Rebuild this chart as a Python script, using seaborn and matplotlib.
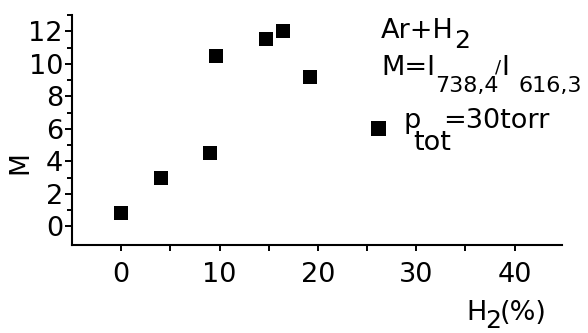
import matplotlib
matplotlib.use("Agg")
import matplotlib.pyplot as plt
from matplotlib.lines import Line2D
from matplotlib.ticker import FixedLocator, NullFormatter
import seaborn as sns
import pandas as pd

# ---- data ----
h2_percent = [0.0, 4.0, 9.0, 9.6, 14.7, 16.5, 19.2]
m_ratio = [0.8, 3.0, 4.5, 10.45, 11.5, 12.0, 9.2]

x_major = [0, 10, 20, 30, 40]
x_minor = [5, 15, 25, 35]
y_major = [0, 2, 4, 6, 8, 10, 12]
y_minor = [1, 3, 5, 7, 9, 11, 13]

df = pd.DataFrame({"H2": h2_percent, "M": m_ratio})

sns.set_style("ticks")
plt.rcParams["font.family"] = ["DejaVu Sans"]
plt.rcParams["axes.linewidth"] = 1.5

W, H = 588, 333
fig = plt.figure(figsize=(W / 100, H / 100), dpi=100)
ax = fig.add_axes([72 / W, 88 / H, (561.7 - 72) / W, (245 - 15) / H])

sns.scatterplot(data=df, x="H2", y="M", marker="s", s=115, color="black",
                linewidth=0, ax=ax, legend=False)

ax.set_xlim(-5, 44.8)
ax.set_ylim(-1.14, 13.0)
ax.xaxis.set_major_locator(FixedLocator(x_major))
ax.xaxis.set_minor_locator(FixedLocator(x_minor))
ax.yaxis.set_major_locator(FixedLocator(y_major))
ax.yaxis.set_minor_locator(FixedLocator(y_minor))
ax.xaxis.set_minor_formatter(NullFormatter())
ax.yaxis.set_minor_formatter(NullFormatter())

for s in ("top", "right"):
    ax.spines[s].set_visible(False)
for s in ("left", "bottom"):
    ax.spines[s].set_color("black")
    ax.spines[s].set_linewidth(1.5)

ax.tick_params(axis="x", which="both", direction="out", length=4.5, width=1.4,
               colors="black", labelsize=19.5, pad=7.5)
ax.tick_params(axis="y", which="major", direction="out", length=5, width=1.4,
               colors="black", labelsize=19.5, pad=1.5)
ax.tick_params(axis="y", which="minor", direction="out", length=3.5, width=1.4,
               colors="black")

ax.set_xlabel("")
ax.set_ylabel("M", fontsize=19, color="black")
ax.yaxis.set_label_coords(-0.078, 0.3565)


def px_text(x, y, s, size=19.5):
    fig.text(x / W, 1 - y / H, s, fontsize=size, ha="left", va="baseline",
             color="black")


# x-axis label H2(%)
px_text(466, 320, "H")
px_text(485, 328, "2", size=18)
px_text(500, 320, "(%)")

# annotation block
px_text(381, 38, "Ar+H")
px_text(454, 48, "2", size=18)
px_text(381, 75, "M=I")
px_text(435, 92, "738,4", size=16)
px_text(495, 72, "/", size=13)
px_text(501, 75, "I")
px_text(519, 92, "616,3", size=16)

# legend marker for p_tot = 30 torr
handle = Line2D([], [], marker="s", linestyle="", color="black",
                markersize=10.8, markeredgewidth=0)
ax.legend(handles=[handle], labels=[""], loc="center",
          bbox_to_anchor=(377.5 / W, 1 - 130.5 / H), bbox_transform=fig.transFigure,
          frameon=False, borderpad=0, borderaxespad=0, handlelength=0.6,
          handleheight=0.6, handletextpad=0, fontsize=19.5)
px_text(403, 128, "p")
px_text(413, 150, "tot")
px_text(443, 128, "=30torr")

fig.savefig("out.png", dpi=100)
